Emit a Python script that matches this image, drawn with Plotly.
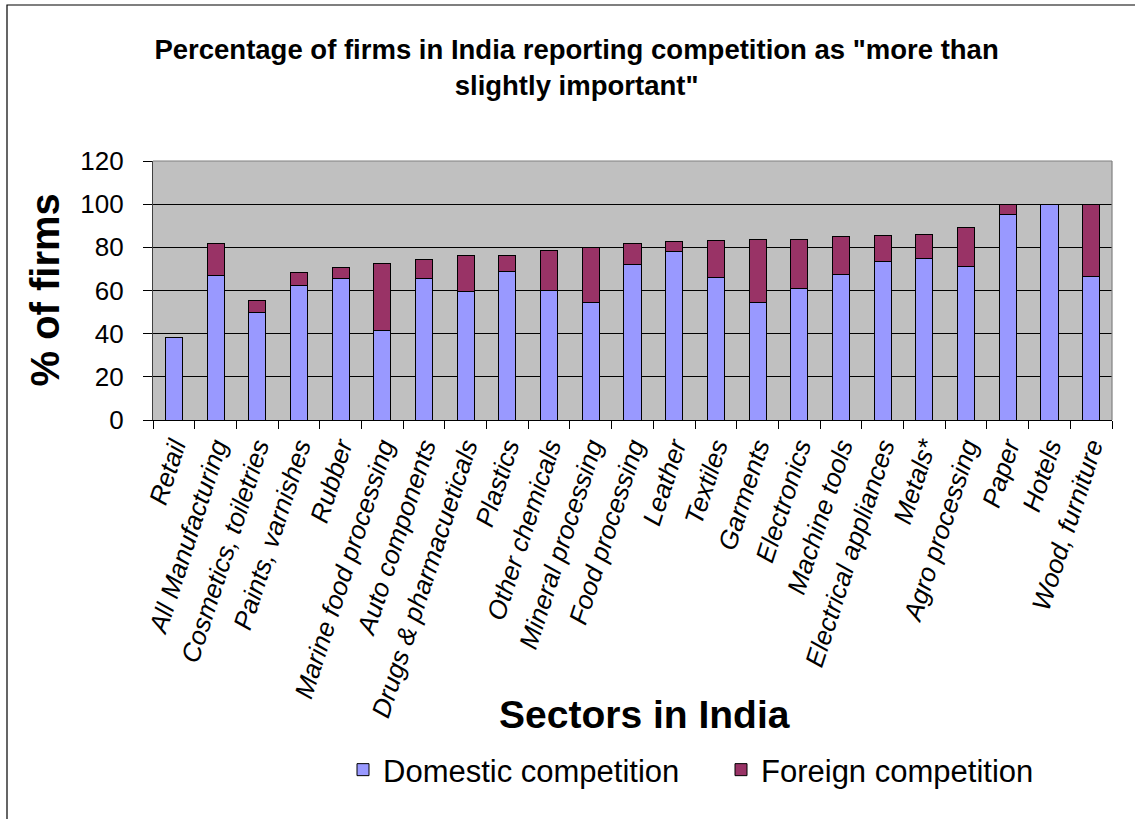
import plotly.graph_objects as go

# Sectors surveyed, ordered by total share of firms reporting competition
sectors = [
    "Retail", "All Manufacturing", "Cosmetics, toiletries", "Paints, varnishes",
    "Rubber", "Marine food processing", "Auto components",
    "Drugs & pharmacueticals", "Plastics", "Other chemicals",
    "Mineral processing", "Food processing", "Leather", "Textiles",
    "Garments", "Electronics", "Machine tools", "Electrical appliances",
    "Metals*", "Agro processing", "Paper", "Hotels", "Wood, furniture",
]

# % of firms reporting domestic competition as more than slightly important
domestic = [38, 67, 50, 62.5, 65.5, 41.5, 65.5, 59.5, 69, 60, 54.5, 72, 78,
            66, 54.5, 61, 67.5, 73.5, 75, 71, 95, 100, 66.7]

# additional % of firms reporting foreign competition (stacked on top)
foreign = [0, 15, 5.5, 6, 5, 31, 9, 16.5, 7, 18.5, 25.5, 10, 4.5,
           17, 29, 22.5, 17.5, 12, 11, 18, 5, 0, 33.3]

y_ticks = [0, 20, 40, 60, 80, 100, 120]

FONT = "Liberation Sans, Arial, sans-serif"

fig = go.Figure()
fig.add_trace(go.Bar(
    x=sectors, y=domestic, name="Domestic competition",
    marker=dict(color="#9999FF", line=dict(color="#000000", width=1)),
))
fig.add_trace(go.Bar(
    x=sectors, y=foreign, name="Foreign competition",
    marker=dict(color="#993366", line=dict(color="#000000", width=1)),
))

# plot area in pixels: x 153..1112, y 161..420
W, H = 1135, 819
L, R, T, B = 153, 1112, 161, 420
pw, ph = R - L, B - T

def px(x):
    return (x - L) / pw

def py(y):
    return (B - y) / ph

fig.update_layout(
    width=W, height=H,
    margin=dict(l=L, r=W - R, t=T, b=H - B, pad=0),
    barmode="stack",
    bargap=0.59,
    paper_bgcolor="#FFFFFF",
    plot_bgcolor="#C0C0C0",
    font=dict(family=FONT, color="#000000"),
    title=dict(
        text='<b>Percentage of firms in India reporting competition as "more than<br>slightly important"</b>',
        font=dict(family=FONT, size=27.5, color="#000000"),
        x=0.508, xanchor="center", xref="container",
        y=1 - 59 / H, yanchor="top", yref="container",
    ),
    showlegend=True,
    legend=dict(
        orientation="h",
        x=px(343), xanchor="left",
        y=py(770), yanchor="middle",
        font=dict(family=FONT, size=31, color="#000000"),
        bgcolor="rgba(0,0,0,0)",
        traceorder="normal",
        itemwidth=30,
        entrywidth=333, entrywidthmode="pixels",
    ),
    xaxis=dict(
        type="category",
        tickangle=-72,
        tickfont=dict(family=FONT, size=26, color="#000000", style="italic"),
        ticks="outside", ticklen=8, tickcolor="#000000", tickwidth=1,
        tickson="boundaries",
        showline=True, linecolor="#000000", linewidth=1.2,
        showgrid=False,
        mirror=False,
    ),
    yaxis=dict(
        range=[0, 120],
        tickvals=y_ticks,
        ticktext=[str(v) for v in y_ticks],
        tickfont=dict(family=FONT, size=26, color="#000000"),
        ticks="outside", ticklen=9, tickcolor="#000000", tickwidth=1,
        ticklabelstandoff=14,
        showline=True, linecolor="#404040", linewidth=1.2,
        showgrid=True, gridcolor="#000000", gridwidth=1,
        zeroline=False,
    ),
    annotations=[
        dict(
            text="<b>% of firms</b>", textangle=-90,
            x=px(44), y=0.5, xref="paper", yref="paper",
            xanchor="center", yanchor="middle", showarrow=False,
            font=dict(family=FONT, size=40, color="#000000"),
        ),
        dict(
            text="<b>Sectors in India</b>",
            x=px(644), y=py(715), xref="paper", yref="paper",
            xanchor="center", yanchor="middle", showarrow=False,
            font=dict(family=FONT, size=39, color="#000000"),
        ),
    ],
    shapes=[
        # grey frame along the top and right of the plot area
        dict(type="line", xref="paper", yref="paper", x0=0, x1=1, y0=1, y1=1,
             line=dict(color="#808080", width=1.2)),
        dict(type="line", xref="paper", yref="paper", x0=1, x1=1, y0=0, y1=1,
             line=dict(color="#808080", width=1.2)),
        # outer chart border
        dict(type="rect", xref="paper", yref="paper",
             x0=px(7), x1=px(1160), y0=py(850), y1=py(5),
             line=dict(color="#000000", width=1.2), layer="below"),
    ],
)

fig.write_html("out.html")
